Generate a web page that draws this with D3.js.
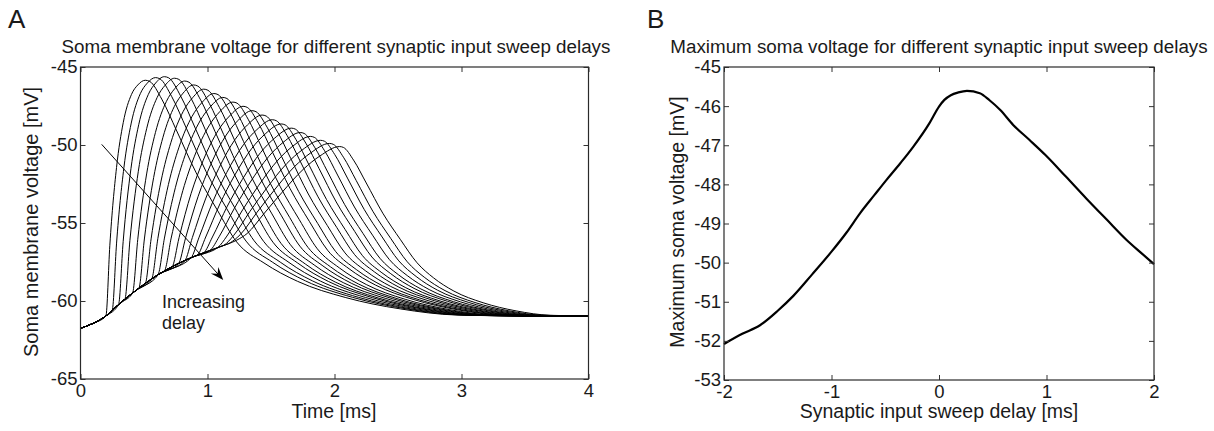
<!DOCTYPE html>
<html>
<head>
<meta charset="utf-8">
<script src="https://cdn.jsdelivr.net/npm/d3@7"></script>
<style>
body { margin: 0; background: #fff; }
svg text { font-family: "Liberation Sans", Arial, sans-serif; fill: #1a1a1a; }
</style>
</head>
<body>
<svg id="fig" width="1214" height="431"></svg>
<script>

// ---- panel A : soma voltage traces ----
// common slow trajectory all sweeps share before their fast rise
var envT = [0, 0.1, 0.2, 0.31, 0.44, 0.63, 0.89, 1.1, 1.23, 1.3];
var envV = [-61.75, -61.43, -60.96, -60.15, -59.3, -58.22, -57.16, -56.52, -56.1, -55.9];

// one entry per sweep (21 sweeps)
var onsetT = [0.20, 0.25, 0.30, 0.35, 0.41, 0.46, 0.51, 0.56, 0.61, 0.66, 0.72,
              0.77, 0.82, 0.87, 0.92, 0.97, 1.02, 1.08, 1.13, 1.18, 1.23];
var peakT  = [0.51, 0.59, 0.66, 0.74, 0.82, 0.89, 0.97, 1.05, 1.12, 1.20, 1.28,
              1.35, 1.43, 1.51, 1.58, 1.66, 1.73, 1.81, 1.89, 1.96, 2.04];
var peakV  = [-45.85, -45.68, -45.62, -45.72, -45.9, -46.15, -46.42, -46.7, -46.95, -47.25, -47.52,
              -47.8, -48.08, -48.38, -48.65, -48.92, -49.2, -49.45, -49.7, -49.9, -50.1];
var riseMix = [0, 0.05, 0.1, 0.15, 0.2, 0.25, 0.3, 0.35, 0.4, 0.45, 0.5,
               0.55, 0.6, 0.65, 0.7, 0.75, 0.8, 0.85, 0.9, 0.95, 1];
var decayLen = [1.18, 1.17, 1.16, 1.15, 1.14, 1.13, 1.12, 1.11, 1.10, 1.09, 1.09,
                1.08, 1.07, 1.06, 1.05, 1.04, 1.03, 1.02, 1.01, 1.005, 1.0];
var tailLen = [1.40, 1.38, 1.36, 1.34, 1.32, 1.30, 1.28, 1.26, 1.24, 1.22, 1.20,
               1.18, 1.16, 1.14, 1.12, 1.10, 1.08, 1.06, 1.04, 1.02, 1.00];

// shape of the fast rise (first and last sweep) and of the decay
var riseU      = [0, 0.1, 0.27, 0.44, 0.65, 0.81, 1];
var riseFirst  = [0, 0.3, 0.63, 0.82, 0.94, 0.98, 1];
var riseLast   = [0, 0.07, 0.29, 0.51, 0.76, 0.9, 1];
var decayU = [0.03, 0.11, 0.21, 0.34, 0.48, 0.61, 0.74, 0.90, 1.13, 1.39, 1.66, 2.0];
var decayF = [0.995, 0.92, 0.785, 0.607, 0.45, 0.314, 0.225, 0.147, 0.078, 0.03, 0.004, 0];
var restV = -60.96;

// annotation arrow (data coords)
var arrowT = [0.167, 1.124];
var arrowV = [-49.96, -58.65];

var xTicksA = [0, 1, 2, 3, 4];
var yTicksA = [-45, -50, -55, -60, -65];

// ---- panel B : maximum soma voltage vs delay ----
var delayMs = [-2, -1.83, -1.665, -1.5, -1.355, -1.18, -1, -0.86, -0.735, -0.6, -0.49, -0.36, -0.24,
               -0.09, 0, 0.05, 0.11, 0.18, 0.26, 0.38, 0.47, 0.57, 0.69, 0.84, 0.99, 1.18, 1.37,
               1.56, 1.745, 1.88, 2];
var maxV = [-52.08, -51.82, -51.6, -51.23, -50.85, -50.3, -49.72, -49.23, -48.74, -48.27, -47.89, -47.46, -47.04,
            -46.44, -46.01, -45.84, -45.72, -45.65, -45.61, -45.67, -45.85, -46.1, -46.48, -46.86, -47.25, -47.8, -48.36,
            -48.9, -49.42, -49.75, -50.04];

var xTicksB = [-2, -1, 0, 1, 2];
var yTicksB = [-45, -46, -47, -48, -49, -50, -51, -52, -53];

var svg = d3.select("#fig");
var fmt = function(d){ return String(d); };   // plain hyphen minus like the original

function boxAxes(g, x, y, xt, yt, tk) {
    var x0 = x.range()[0], x1 = x.range()[1];
    var y0 = y.range()[0], y1 = y.range()[1];

    g.append("g").attr("transform", "translate(0," + y0 + ")")
        .call(d3.axisBottom(x).tickValues(xt).tickSize(-tk).tickPadding(5).tickFormat(fmt))
        .call(function(a){ a.select(".domain").remove(); });
    g.append("g").attr("transform", "translate(0," + y1 + ")")
        .call(d3.axisTop(x).tickValues(xt).tickSize(-tk).tickFormat(""))
        .call(function(a){ a.select(".domain").remove(); });
    g.append("g").attr("transform", "translate(" + x0 + ",0)")
        .call(d3.axisLeft(y).tickValues(yt).tickSize(-tk).tickPadding(3).tickFormat(fmt))
        .call(function(a){ a.select(".domain").remove(); });
    g.append("g").attr("transform", "translate(" + x1 + ",0)")
        .call(d3.axisRight(y).tickValues(yt).tickSize(-tk).tickFormat(""))
        .call(function(a){ a.select(".domain").remove(); });

    g.selectAll(".tick line").attr("stroke", "#333").attr("stroke-width", 1);
    g.selectAll(".tick text").style("font-size", "18.5px").attr("fill", "#1a1a1a");

    g.append("rect")
        .attr("x", x0).attr("y", y1)
        .attr("width", x1 - x0).attr("height", y0 - y1)
        .attr("fill", "none").attr("stroke", "#2a2a2a").attr("stroke-width", 1.2);
}

// ---------- panel A ----------
var xA = d3.scaleLinear().domain([0, 4]).range([80.5, 588.5]);
var yA = d3.scaleLinear().domain([-65, -45]).range([379, 67]);
var gA = svg.append("g");

var envAt = function(t) {
    for (var i = 1; i < envT.length; i++) {
        if (t <= envT[i]) {
            var f = (t - envT[i-1]) / (envT[i] - envT[i-1]);
            return envV[i-1] + f * (envV[i] - envV[i-1]);
        }
    }
    return envV[envV.length - 1];
};

var traces = peakT.map(function(pt, k) {
    var pts = [];
    var on = onsetT[k], e0 = envAt(on), pv = peakV[k], m = riseMix[k];
    envT.forEach(function(t, i){ if (t < on) pts.push([t, envV[i]]); });
    riseU.forEach(function(u, i){
        var f = riseFirst[i] * (1 - m) + riseLast[i] * m;
        pts.push([on + u * (pt - on), e0 + f * (pv - e0)]);
    });
    var uBend = 0.61;
    decayU.forEach(function(u, i){
        var dt = u <= uBend ? u * decayLen[k]
                            : uBend * decayLen[k] + (u - uBend) * decayLen[k] * tailLen[k];
        if (pt + dt < 4) pts.push([pt + dt, restV + decayF[i] * (pv - restV)]);
    });
    pts.push([4, restV]);
    return pts;
});

var lineA = d3.line()
    .x(function(d){ return xA(d[0]); })
    .y(function(d){ return yA(d[1]); })
    .curve(d3.curveMonotoneX);

gA.append("g").selectAll("path")
    .data(traces)
    .join("path")
    .attr("d", lineA)
    .attr("fill", "none")
    .attr("stroke", "#000")
    .attr("stroke-width", 1);

boxAxes(gA, xA, yA, xTicksA, yTicksA, 5);

// arrow
var ax0 = xA(arrowT[0]), ay0 = yA(arrowV[0]), ax1 = xA(arrowT[1]), ay1 = yA(arrowV[1]);
var ang = Math.atan2(ay1 - ay0, ax1 - ax0);
gA.append("line")
    .attr("x1", ax0).attr("y1", ay0).attr("x2", ax1 - 6 * Math.cos(ang)).attr("y2", ay1 - 6 * Math.sin(ang))
    .attr("stroke", "#000").attr("stroke-width", 1);
var hl = 13, hw = 5;
gA.append("path")
    .attr("d", "M" + ax1 + "," + ay1 +
        "L" + (ax1 - hl * Math.cos(ang) + hw * Math.sin(ang)) + "," + (ay1 - hl * Math.sin(ang) - hw * Math.cos(ang)) +
        "L" + (ax1 - 0.65 * hl * Math.cos(ang)) + "," + (ay1 - 0.65 * hl * Math.sin(ang)) +
        "L" + (ax1 - hl * Math.cos(ang) - hw * Math.sin(ang)) + "," + (ay1 - hl * Math.sin(ang) + hw * Math.cos(ang)) + "Z")
    .attr("fill", "#000");

gA.append("text").attr("x", 162).attr("y", 308).style("font-size", "18px").text("Increasing");
gA.append("text").attr("x", 162).attr("y", 329).style("font-size", "18px").text("delay");

gA.append("text").attr("x", 336).attr("y", 53).attr("text-anchor", "middle").style("font-size", "18.8px")
    .text("Soma membrane voltage for different synaptic input sweep delays");
gA.append("text").attr("x", 334).attr("y", 418).attr("text-anchor", "middle").style("font-size", "19.5px")
    .text("Time [ms]");
gA.append("text").attr("transform", "translate(38,222) rotate(-90)").attr("text-anchor", "middle")
    .style("font-size", "20px").text("Soma membrane voltage [mV]");
gA.append("text").attr("x", 8).attr("y", 28).style("font-size", "26px").text("A");

// ---------- panel B ----------
var xB = d3.scaleLinear().domain([-2, 2]).range([724, 1154]);
var yB = d3.scaleLinear().domain([-53, -45]).range([380, 67]);
var gB = svg.append("g");

gB.append("path")
    .datum(d3.zip(delayMs, maxV))
    .attr("d", d3.line()
        .x(function(d){ return xB(d[0]); })
        .y(function(d){ return yB(d[1]); })
        .curve(d3.curveMonotoneX))
    .attr("fill", "none")
    .attr("stroke", "#000")
    .attr("stroke-width", 2.2);

boxAxes(gB, xB, yB, xTicksB, yTicksB, 5);

gB.append("text").attr("x", 939).attr("y", 53).attr("text-anchor", "middle").style("font-size", "18.8px")
    .text("Maximum soma voltage for different synaptic input sweep delays");
gB.append("text").attr("x", 939).attr("y", 418).attr("text-anchor", "middle").style("font-size", "19.5px")
    .text("Synaptic input sweep delay [ms]");
gB.append("text").attr("transform", "translate(684,222) rotate(-90)").attr("text-anchor", "middle")
    .style("font-size", "19.5px").text("Maximum soma voltage [mV]");
gB.append("text").attr("x", 647).attr("y", 28).style("font-size", "26px").text("B");

</script>
</body>
</html>
